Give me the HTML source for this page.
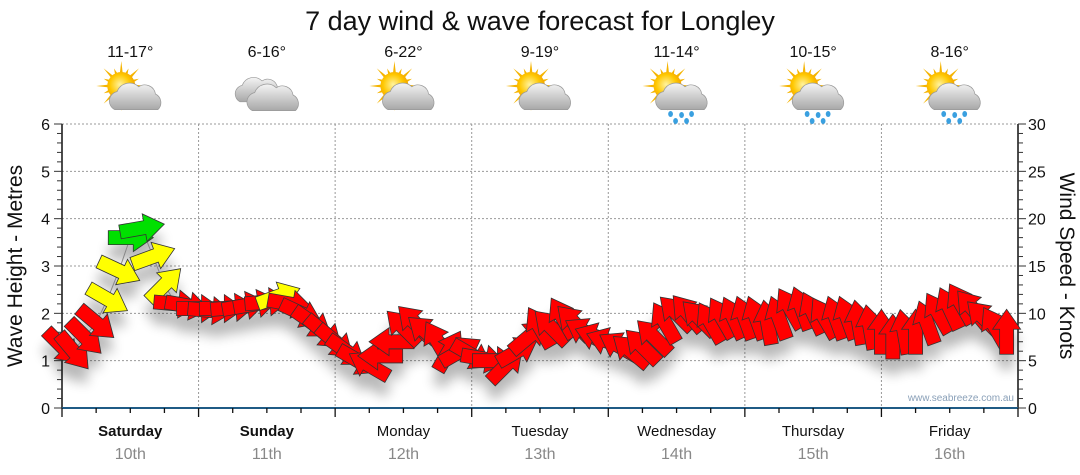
<!DOCTYPE html>
<html><head><meta charset="utf-8"><style>
body{margin:0;background:#fff;}
svg{display:block;font-family:"Liberation Sans","DejaVu Sans",sans-serif;}
</style></head><body>
<svg id="chart" width="1080" height="475" viewBox="0 0 1080 475">
<defs>
<filter id="shadow" x="-50%" y="-50%" width="200%" height="200%"><feGaussianBlur stdDeviation="6"/></filter>
<radialGradient id="sunG" cx="0.45" cy="0.45" r="0.6"><stop offset="0" stop-color="#fff3a0"/><stop offset="0.6" stop-color="#ffc800"/><stop offset="1" stop-color="#f09a00"/></radialGradient>
<linearGradient id="cloudG" x1="0" y1="0" x2="0" y2="1"><stop offset="0" stop-color="#f4f4f4"/><stop offset="1" stop-color="#a8a8a8"/></linearGradient>
</defs>
<text x="540" y="30" text-anchor="middle" font-size="27" fill="#111">7 day wind &amp; wave forecast for Longley</text>
<g id="grid"></g>
<g id="axes"></g>
<g id="icons"></g>
<g id="shadows" filter="url(#shadow)" opacity="0.28"></g>
<g id="series"></g>
<text x="22" y="266" transform="rotate(-90 22 266)" text-anchor="middle" font-size="21" fill="#111">Wave Height - Metres</text>
<text x="1060" y="266" transform="rotate(90 1060 266)" text-anchor="middle" font-size="21" fill="#111">Wind Speed - Knots</text>
<text x="1014" y="401" text-anchor="end" font-size="10" fill="#8aa0b8">www.seabreeze.com.au</text>
</svg>
<script>
const dayNames = ["Saturday","Sunday","Monday","Tuesday","Wednesday","Thursday","Friday"];
const dayDates = ["10th","11th","12th","13th","14th","15th","16th"];
const dayBold = [true,true,false,false,false,false,false];
const temps = ["11-17°","6-16°","6-22°","9-19°","11-14°","10-15°","8-16°"];
const iconTypes = ["suncloud","cloud","suncloud","suncloud","sunrain","sunrain","sunrain"];
const leftTicks = [0,1,2,3,4,5,6];
const rightTicks = [0,5,10,15,20,25,30];
const stepHours = 2;
const speeds = [6.5,6,7.5,9,11.5,14.5,18,19,16,13,11,10.8,
 10.5,10.3,10.5,10.6,10.8,11,11.2,11.8,11,10,9,8,
 7,6,5,4.5,5.5,7,8.5,9,8,7,6,6,
 5.6,5.2,5,4.5,6,7.5,8.5,8.5,9.5,9,8,7.5,
 7,6.5,6,6.5,7.5,9,10,10,9.5,9,9.5,9.5,
 9.5,9.5,9,9.5,10.5,10.5,10,9.5,9.5,9.5,9,8.5,
 8,7.5,8,8,9,10,10.5,11,10.5,9.5,8.5,8];
const dirs = [45,50,45,40,30,25,0,-10,-20,-45,5,10,
 0,5,0,-5,-10,-10,-5,-20,10,25,35,40,
 40,35,30,-150,180,180,-135,-135,-140,-120,-60,-30,
 30,10,0,-45,-30,-40,-120,-135,-120,-135,-150,-160,
 -160,-150,-140,-135,-135,-120,-135,-130,-135,-120,-120,-115,
 -110,-110,-100,-110,-120,-110,-115,-120,-110,-110,-100,-100,
 -90,-90,-100,-90,-110,-120,-115,-120,-130,-135,-120,-90];
const cols = ["r","r","r","r","y","y","g","g","y","y","r","r",
 "r","r","r","r","r","r","r","y","r","r","r","r",
 "r","r","r","r","r","r","r","r","r","r","r","r",
 "r","r","r","r","r","r","r","r","r","r","r","r",
 "r","r","r","r","r","r","r","r","r","r","r","r",
 "r","r","r","r","r","r","r","r","r","r","r","r",
 "r","r","r","r","r","r","r","r","r","r","r","r"];

const NS="http://www.w3.org/2000/svg";
const X0=62, X1=1018, Y0=408, Y1=124;
const dayW=(X1-X0)/7;
function xH(h){return X0+h*dayW/24;}
function yL(m){return Y0-(m/6)*(Y0-Y1);}
function yR(k){return Y0-(k/30)*(Y0-Y1);}
function mk(tag,attrs,parent){const e=document.createElementNS(NS,tag);for(const k in attrs)e.setAttribute(k,attrs[k]);parent.appendChild(e);return e;}
const grid=document.getElementById('grid'),axes=document.getElementById('axes'),icons=document.getElementById('icons'),series=document.getElementById('series'),shadows=document.getElementById('shadows');

leftTicks.forEach(v=>{
 if(v>0){const l=mk('line',{x1:X0,x2:X1,y1:yL(v),y2:yL(v),stroke:'#999','stroke-dasharray':'2,2','stroke-width':1},grid);
 }
 const t=mk('text',{x:X0-12,y:yL(v)+6,'text-anchor':'end','font-size':16,fill:'#111'},axes);t.textContent=v;
 
});
rightTicks.forEach(v=>{
 const t=mk('text',{x:X1+10,y:yR(v)+6,'text-anchor':'start','font-size':16,fill:'#111'},axes);t.textContent=v;
 
});
for(let d=1;d<7;d++){const l=mk('line',{x1:X0+d*dayW,x2:X0+d*dayW,y1:Y1,y2:Y0,stroke:'#999','stroke-dasharray':'2,2'},grid);
 }
mk('line',{x1:X0,x2:X0,y1:Y1,y2:Y0,stroke:'#111','stroke-width':1.5},axes);
mk('line',{x1:X1,x2:X1,y1:Y1,y2:Y0,stroke:'#111','stroke-width':1.5},axes);
for(let i=0;i<=30;i++){const y=Y0-i*(Y0-Y1)/30;const len=(i%5==0)?8:5;
 mk('line',{x1:X0-len,x2:X0,y1:y,y2:y,stroke:'#333'},axes);
 mk('line',{x1:X1,x2:X1+len,y1:y,y2:y,stroke:'#333'},axes);}
mk('line',{x1:X0,x2:X1,y1:Y0,y2:Y0,stroke:'#1f5b85','stroke-width':2},axes);
for(let i=0;i<=28;i++){const x=X0+i*dayW/4;const len=(i%4==0)?9:5;mk('line',{x1:x,x2:x,y1:Y0,y2:Y0+len,stroke:'#111','stroke-width':1.3},axes);}
dayNames.forEach((n,i)=>{const cx=X0+(i+0.5)*dayW;
 const t=mk('text',{x:cx,y:436,'text-anchor':'middle','font-size':15,fill:'#111','font-weight':dayBold[i]?'bold':'normal'},axes);t.textContent=n;
 
 const t2=mk('text',{x:cx,y:459,'text-anchor':'middle','font-size':16,fill:'#888'},axes);t2.textContent=dayDates[i];
 
 const t3=mk('text',{x:cx,y:57,'text-anchor':'middle','font-size':16,fill:'#111'},icons);t3.textContent=temps[i];
 
 drawIcon(cx,96,iconTypes[i]);
});
function drawSun(g,x,y){
 for(let a=0;a<360;a+=22.5){const r=(a*Math.PI)/180;const L=(a%45==0)?25:19;
  mk('polygon',{points:`${x+Math.cos(r)*L},${y+Math.sin(r)*L} ${x+Math.cos(r+0.13)*12},${y+Math.sin(r+0.13)*12} ${x+Math.cos(r-0.13)*12},${y+Math.sin(r-0.13)*12}`,fill:'#f5b400'},g);}
 mk('circle',{cx:x,cy:y,r:14,fill:'url(#sunG)'},g);
}
function drawCloud(g,x,y,s){
 const p=`M${x-18},${y+8} a8,8 0 0 1 2,-15 a11,11 0 0 1 18,-4 a9,9 0 0 1 14,6 a8,8 0 0 1 2,13 z`;
 mk('path',{d:p,fill:'url(#cloudG)',stroke:'#999','stroke-width':0.6,transform:`translate(${x} ${y}) scale(${s}) translate(${-x} ${-y})`},g);
}
function drawIcon(cx,cy,type){
 const g=mk('g',{},icons);
 if(type=='cloud'){drawCloud(g,cx-7,cy-3,1.1);drawCloud(g,cx+7,cy+5,1.2);return;}
 drawSun(g,cx-9,cy-10);
 drawCloud(g,cx+6,cy+4,1.2);
 if(type=='sunrain'){[[-6,18],[5,19],[15,18],[-1,25],[10,25]].forEach(p=>mk('ellipse',{cx:cx+p[0],cy:cy+p[1],rx:2.4,ry:3,fill:'#3aa0e0'},g));}
}
let pts=speeds.map((s,i)=>`${xH(i*stepHours)},${yR(s)}`).join(' ');
const pl=mk('polyline',{points:pts,fill:'none',stroke:'#888','stroke-width':1},series);

const colorMap={r:'#ff0000',y:'#ffff00',g:'#00e000'};
const arrowD="M-22,-7 L3,-7 L3,-14 L23,0 L3,14 L3,7 L-22,7 Z";
speeds.forEach((s,i)=>{
 const x=xH(i*stepHours),y=yR(s);
 const sh=mk('path',{d:arrowD,fill:'#000',transform:`translate(${x} ${y+15}) rotate(${dirs[i]})`},shadows);
 
 const a=mk('path',{d:arrowD,fill:colorMap[cols[i]],stroke:'#333','stroke-width':0.8,transform:`translate(${x} ${y}) rotate(${dirs[i]})`},series);
 
});
</script>
</body></html>
